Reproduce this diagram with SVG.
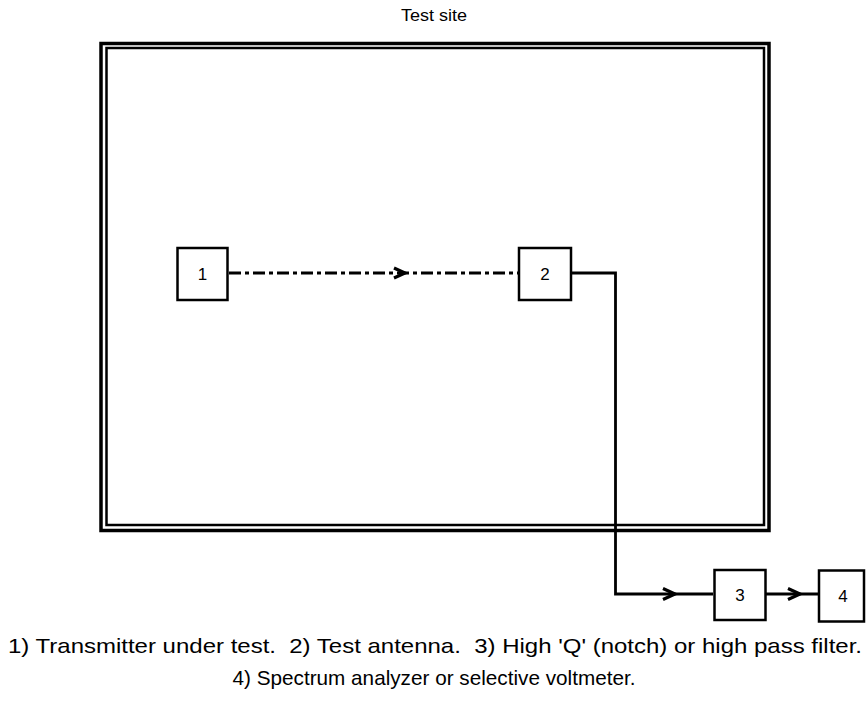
<svg xmlns="http://www.w3.org/2000/svg" width="866" height="717" viewBox="0 0 866 717">
<style>
.box{fill:#fff;stroke:#000;stroke-width:2.5}
.lbl{font-family:"Liberation Sans",Arial,sans-serif;font-size:17px;fill:#000;text-anchor:middle}
.cap{font-family:"Liberation Sans",Arial,sans-serif;fill:#000;text-anchor:middle;white-space:pre}
.ln{fill:none;stroke:#000;stroke-width:2.8}
.ah{fill:none;stroke:#000;stroke-width:3.2;stroke-linejoin:miter}
</style>
<rect width="866" height="717" fill="#fff"/>
<g id="frame">
<rect x="101" y="43.5" width="668" height="487" fill="none" stroke="#000" stroke-width="3.5"/>
<rect x="106.5" y="48" width="657.5" height="477" fill="none" stroke="#000" stroke-width="2.5"/>
</g>
<text class="cap" x="434" y="21" font-size="16" textLength="66" lengthAdjust="spacingAndGlyphs">Test site</text>
<g id="connectors">
<path class="ln" d="M229 273 H518" stroke-dasharray="12 4 4 4"/>
<path class="ah" d="M394 268 L405 273 L394 278"/>
<path class="ln" d="M571 273 H615.5 V594 H713"/>
<path class="ah" d="M663 588.5 L675 594 L663 599.5"/>
<path class="ln" d="M766 594 H818"/>
<path class="ah" d="M788 588.5 L800 594 L788 599.5"/>
</g>
<g id="node1"><rect class="box" x="177.5" y="248" width="50" height="52"/><text class="lbl" x="202.5" y="280">1</text></g>
<g id="node2"><rect class="box" x="519" y="248" width="52" height="52"/><text class="lbl" x="545" y="280">2</text></g>
<g id="node3"><rect class="box" x="714.5" y="570" width="51" height="50"/><text class="lbl" x="740" y="601">3</text></g>
<g id="node4"><rect class="box" x="819" y="570.5" width="45" height="51"/><text class="lbl" x="843" y="602">4</text></g>
<text class="cap" x="435" y="653" font-size="21" textLength="854" lengthAdjust="spacingAndGlyphs" xml:space="preserve">1) Transmitter under test.  2) Test antenna.  3) High 'Q' (notch) or high pass filter.</text>
<text class="cap" x="434" y="685" font-size="21" textLength="403" lengthAdjust="spacingAndGlyphs">4) Spectrum analyzer or selective voltmeter.</text>
</svg>
